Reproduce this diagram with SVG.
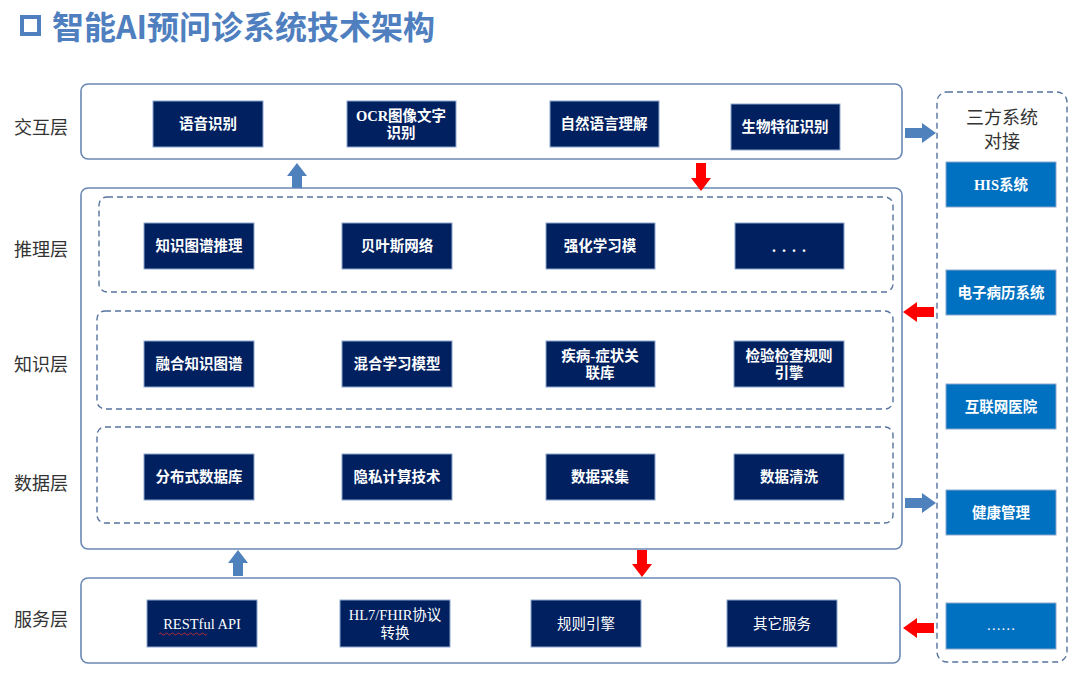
<svg xmlns="http://www.w3.org/2000/svg" width="1080" height="682" viewBox="0 0 1080 682">
<defs>
<style>
.layer{fill:#fff;stroke:#6a88b4;stroke-width:1.6}
.dash{fill:none;stroke:#56739f;stroke-width:1.4;stroke-dasharray:6 4}
.nb{fill:#002060;stroke:#8ea6cc;stroke-width:1}
.bb{fill:#0070c0;stroke:#8ea6cc;stroke-width:1}
.t{fill:#fff;font-family:"Liberation Serif","Noto Sans CJK SC",serif;font-size:14.5px;font-weight:bold;text-anchor:middle}
.tn{font-weight:normal}
.lab{fill:#333;font-family:"Liberation Serif","Noto Sans CJK SC",serif;font-size:18px;text-anchor:start}
.blue{fill:#4f81bd}
.red{fill:#ff0000}
</style>
</defs>
<rect width="1080" height="682" fill="#fff"/>
<g id="title">
<rect x="22" y="17" width="17" height="17" fill="none" stroke="#4f7fbf" stroke-width="4"/>
<text x="52" y="39" fill="#4f7fbf" font-family="'Noto Sans CJK SC','Noto Sans',sans-serif" font-size="32" font-weight="bold">智能AI预问诊系统技术架构</text>
</g>
<g id="labels">
<text class="lab" x="14" y="134">交互层</text>
<text class="lab" x="14" y="256">推理层</text>
<text class="lab" x="14" y="371">知识层</text>
<text class="lab" x="14" y="490">数据层</text>
<text class="lab" x="14" y="626">服务层</text>
</g>
<g id="layer-interaction">
<rect class="layer" x="81" y="84" width="821" height="75" rx="7"/>
</g>
<g id="layer-core">
<rect class="layer" x="81" y="188" width="821" height="361" rx="7"/>
<rect class="dash" x="99" y="197" width="794" height="95" rx="8"/>
<rect class="dash" x="97" y="311" width="796" height="98" rx="8"/>
<rect class="dash" x="97" y="427" width="796" height="96" rx="8"/>
</g>
<g id="layer-service">
<rect class="layer" x="81" y="578" width="819" height="85" rx="7"/>
</g>
<g id="third-party">
<rect class="dash" x="937" y="92" width="130" height="570" rx="10"/>
<text x="1002" y="124" fill="#333" font-family="'Liberation Serif','Noto Sans CJK SC',serif" font-size="18" text-anchor="middle">三方系统</text>
<text x="1002" y="148" fill="#333" font-family="'Liberation Serif','Noto Sans CJK SC',serif" font-size="18" text-anchor="middle">对接</text>
</g>
<g id="n-yuyin"><rect class="nb" x="153" y="101" width="110" height="46"/><text class="t" x="208" y="129">语音识别</text></g>
<g id="n-ocr"><rect class="nb" x="347" y="101" width="109" height="46"/><text class="t" x="401" y="121">OCR图像文字</text><text class="t" x="401" y="138">识别</text></g>
<g id="n-nlu"><rect class="nb" x="550" y="101" width="109" height="46"/><text class="t" x="604" y="129">自然语言理解</text></g>
<g id="n-bio"><rect class="nb" x="731" y="104" width="109" height="46"/><text class="t" x="785" y="132">生物特征识别</text></g>
<g id="n-kgr"><rect class="nb" x="144" y="223" width="110" height="46"/><text class="t" x="199" y="251">知识图谱推理</text></g>
<g id="n-bayes"><rect class="nb" x="342" y="223" width="110" height="46"/><text class="t" x="397" y="251">贝叶斯网络</text></g>
<g id="n-rl"><rect class="nb" x="546" y="223" width="109" height="46"/><text class="t" x="600" y="251">强化学习模</text></g>
<g id="n-more1"><rect class="nb" x="735" y="223" width="109" height="46"/><text class="t" x="792" y="252" style="letter-spacing:6px;font-size:16px">....</text></g>
<g id="n-fkg"><rect class="nb" x="144" y="341" width="110" height="46"/><text class="t" x="199" y="369">融合知识图谱</text></g>
<g id="n-hml"><rect class="nb" x="342" y="341" width="110" height="46"/><text class="t" x="397" y="369">混合学习模型</text></g>
<g id="n-dsl"><rect class="nb" x="546" y="341" width="109" height="46"/><text class="t" x="600" y="361">疾病-症状关</text><text class="t" x="600" y="378">联库</text></g>
<g id="n-lab"><rect class="nb" x="734" y="341" width="110" height="46"/><text class="t" x="789" y="361">检验检查规则</text><text class="t" x="789" y="378">引擎</text></g>
<g id="n-ddb"><rect class="nb" x="144" y="454" width="110" height="46"/><text class="t" x="199" y="482">分布式数据库</text></g>
<g id="n-priv"><rect class="nb" x="342" y="454" width="110" height="46"/><text class="t" x="397" y="482">隐私计算技术</text></g>
<g id="n-collect"><rect class="nb" x="546" y="454" width="109" height="46"/><text class="t" x="600" y="482">数据采集</text></g>
<g id="n-clean"><rect class="nb" x="734" y="454" width="110" height="46"/><text class="t" x="789" y="482">数据清洗</text></g>
<g id="n-rest"><rect class="nb" x="147" y="600" width="110" height="47"/><text class="t tn" x="202" y="629">RESTful API</text><path d="M159,634 q1.5,-2 3,0 t3,0 t3,0 t3,0 t3,0 t3,0 t3,0 t3,0 t3,0 t3,0 t3,0 t3,0 t3,0 t3,0 t3,0 t3,0" fill="none" stroke="#e03030" stroke-width="0.8"/></g>
<g id="n-hl7"><rect class="nb" x="340" y="600" width="110" height="47"/><text class="t tn" x="395" y="620">HL7/FHIR协议</text><text class="t tn" x="395" y="638">转换</text></g>
<g id="n-rule"><rect class="nb" x="531" y="600" width="110" height="47"/><text class="t tn" x="586" y="629">规则引擎</text></g>
<g id="n-other"><rect class="nb" x="727" y="600" width="110" height="47"/><text class="t tn" x="782" y="629">其它服务</text></g>
<g id="n-his"><rect class="bb" x="946" y="162" width="110" height="45"/><text class="t" x="1001" y="190">HIS系统</text></g>
<g id="n-emr"><rect class="bb" x="946" y="270" width="110" height="45"/><text class="t" x="1001" y="298">电子病历系统</text></g>
<g id="n-ih"><rect class="bb" x="946" y="384" width="110" height="45"/><text class="t" x="1001" y="412">互联网医院</text></g>
<g id="n-health"><rect class="bb" x="946" y="490" width="110" height="45"/><text class="t" x="1001" y="518">健康管理</text></g>
<g id="n-more2"><rect class="bb" x="946" y="603" width="110" height="46"/><text class="t tn" x="1001" y="630">……</text></g>
<g id="connectors">
<path class="blue" d="M292,188 V176 H287 L297,163 L307,176 H302 V188 Z"/>
<path class="red" d="M696,163 V178 H691 L701,191 L711,178 H706 V163 Z"/>
<path class="blue" d="M233,576 V563 H228 L238,550 L248,563 H243 V576 Z"/>
<path class="red" d="M637,550 V564 H632 L642,577 L652,564 H647 V550 Z"/>
<path class="blue" d="M905,128 H922 V123 L936,133 L922,143 V138 H905 Z"/>
<path class="red" d="M934,307 H917 V302 L903,312 L917,322 V317 H934 Z"/>
<path class="blue" d="M905,498 H922 V493 L936,503 L922,513 V508 H905 Z"/>
<path class="red" d="M934,623 H917 V618 L903,628 L917,638 V633 H934 Z"/>
</g>
</svg>
